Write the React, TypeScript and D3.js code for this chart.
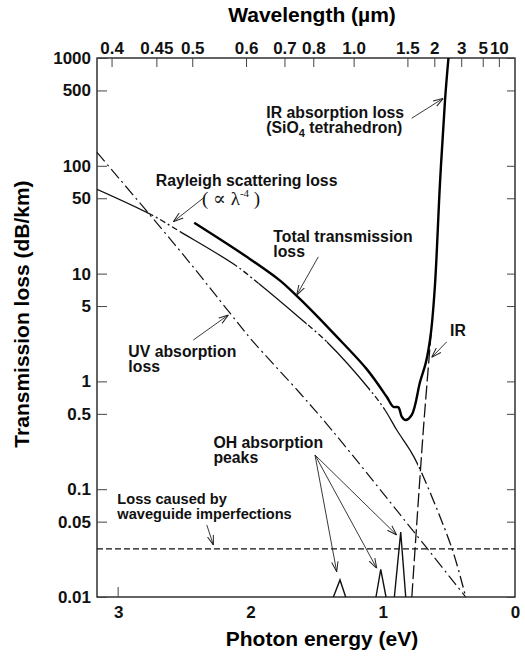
import React, { useEffect, useRef } from 'react';
import * as d3 from 'd3';

// photon energy (eV) and loss (dB/km)
const uvEnergy = [3.16, 2.507, 2.154, 1.99, 1.625, 1.385, 0.667, 0.373];
const uvLoss = [133, 14.9, 4.29, 2.42, 0.776, 0.354, 0.0285, 0.01];

const rayleighEnergy = [3.16, 2.746, 2.532, 2.116, 1.94, 1.625, 1.423, 1.096, 0.983, 0.894, 0.794, 0.733, 0.478, 0.373];
const rayleighLoss = [60.6, 35.0, 24.5, 12.0, 8.13, 3.85, 2.33, 0.832, 0.543, 0.354, 0.231, 0.168, 0.0285, 0.01];
// where the rayleigh curve is drawn solid (the rest is dash-dot)
const rayleighSolid = [[3.16, 2.746], [2.532, 2.116], [1.94, 1.575], [1.423, 1.096], [0.983, 0.733]];

const totalEnergy = [2.425, 2.028, 1.776, 1.65, 1.55, 1.373, 1.121, 0.97, 0.92, 0.882, 0.856, 0.831, 0.781, 0.718, 0.673, 0.635, 0.605, 0.567, 0.529, 0.503];
const totalLoss = [29.6, 14.3, 8.6, 6.2, 4.7, 2.8, 1.3, 0.72, 0.582, 0.575, 0.471, 0.438, 0.488, 0.987, 1.51, 2.87, 7.84, 69.2, 407, 1000];

const irEnergy = [0.78, 0.693, 0.632];
const irLoss = [0.01, 0.354, 3.0];

const ohPeakEnergy = [1.323, 1.015, 0.864];
const ohPeakLoss = [0.0144, 0.018, 0.04];
const ohBaseLeft = [1.373, 1.051, 0.912];
const ohBaseRight = [1.28, 0.975, 0.826];

const waveguideLoss = 0.028;

const lossTicks = [1000, 500, 100, 50, 10, 5, 1, 0.5, 0.1, 0.05, 0.01];
const energyTicks = [3, 2, 1, 0];
const wavelengthTicks = [0.4, 0.45, 0.5, 0.6, 0.7, 0.8, 1.0, 1.5, 2, 3, 5, 10];
const wavelengthLabels = ['0.4', '0.45', '0.5', '0.6', '0.7', '0.8', '1.0', '1.5', '2', '3', '5', '10'];
const hc = 1.22; // eV·µm as the figure's top axis is laid out

export default function App() {
  const ref = useRef<SVGSVGElement>(null);

  useEffect(() => {
    const svg = d3.select(ref.current);
    svg.selectAll('*').remove();

    const width = 525;
    const height = 657;
    const margin = { top: 58, right: 10, bottom: 60, left: 97 };
    const font = '"Liberation Sans", Arial, Helvetica, sans-serif';

    const x = d3.scaleLinear().domain([3.16, 0]).range([margin.left, width - margin.right]);
    const y = d3.scaleLog().domain([0.01, 1000]).range([height - margin.bottom, margin.top]);

    const line = d3.line<[number, number]>()
      .x(d => x(d[0]))
      .y(d => y(d[1]))
      .curve(d3.curveCatmullRom);

    const defs = svg.append('defs');
    defs.append('marker')
      .attr('id', 'arrow')
      .attr('viewBox', '0 0 10 8')
      .attr('refX', 10)
      .attr('refY', 4)
      .attr('markerWidth', 10)
      .attr('markerHeight', 8)
      .attr('markerUnits', 'userSpaceOnUse')
      .attr('orient', 'auto')
      .append('path')
      .attr('d', 'M0,0.8 L10,4 L0,7.2')
      .attr('fill', 'none')
      .attr('stroke', '#222')
      .attr('stroke-width', 1);

    const clipRects = (id: string, ranges: number[][]) => {
      const cp = defs.append('clipPath').attr('id', id);
      ranges.forEach(([e0, e1]) => {
        cp.append('rect')
          .attr('x', x(e0))
          .attr('y', margin.top)
          .attr('width', x(e1) - x(e0))
          .attr('height', height - margin.top - margin.bottom);
      });
    };
    const gaps = rayleighSolid.slice(0, -1).map((r, i) => [r[1], rayleighSolid[i + 1][0]]);
    const tail = [[rayleighSolid[rayleighSolid.length - 1][1], 0]];
    clipRects('ray-solid', rayleighSolid);
    clipRects('ray-gap', gaps);
    clipRects('ray-tail', tail);

    // frame
    svg.append('rect')
      .attr('x', margin.left)
      .attr('y', margin.top)
      .attr('width', width - margin.left - margin.right)
      .attr('height', height - margin.top - margin.bottom)
      .attr('fill', 'none')
      .attr('stroke', '#111')
      .attr('stroke-width', 1.3);

    // axes
    const styleAxis = (g: any) => {
      g.select('.domain').remove();
      g.selectAll('.tick line').attr('stroke', '#444');
      g.attr('font-family', font).attr('font-size', 17).attr('font-weight', 'bold');
      g.selectAll('text').attr('fill', '#111');
    };

    svg.append('g')
      .attr('transform', `translate(${margin.left},0)`)
      .call(d3.axisLeft(y).tickValues(lossTicks).tickFormat(d => String(d)).tickSizeInner(-10).tickSizeOuter(0).tickPadding(6))
      .call(styleAxis);

    svg.append('g')
      .attr('transform', `translate(${width - margin.right},0)`)
      .call(d3.axisRight(y).tickValues(lossTicks).tickFormat(() => '').tickSizeInner(-8).tickSizeOuter(0))
      .call(styleAxis);

    svg.append('g')
      .attr('transform', `translate(0,${margin.top})`)
      .call(d3.axisTop(x).tickValues(wavelengthTicks.map(l => hc / l)).tickFormat((_, i) => wavelengthLabels[i]).tickSizeInner(-9).tickSizeOuter(0).tickPadding(4))
      .call(styleAxis);

    svg.append('g')
      .attr('transform', `translate(0,${height - margin.bottom})`)
      .call(d3.axisBottom(x).tickValues(energyTicks).tickFormat(d3.format('d')).tickSize(0).tickPadding(9))
      .call(styleAxis);

    svg.append('line') // lone tick at 3 eV
      .attr('x1', x(3))
      .attr('x2', x(3))
      .attr('y1', y(0.01))
      .attr('y2', y(0.01) - 10)
      .attr('stroke', '#444');

    // axis titles
    svg.append('text')
      .attr('x', 312)
      .attr('y', 22)
      .attr('text-anchor', 'middle')
      .attr('font-family', font)
      .attr('font-size', 21)
      .attr('font-weight', 'bold')
      .text('Wavelength (µm)');

    svg.append('text')
      .attr('x', 322)
      .attr('y', 646)
      .attr('text-anchor', 'middle')
      .attr('font-family', font)
      .attr('font-size', 21)
      .attr('font-weight', 'bold')
      .text('Photon energy (eV)');

    svg.append('text')
      .attr('transform', 'translate(29,314) rotate(-90)')
      .attr('text-anchor', 'middle')
      .attr('font-family', font)
      .attr('font-size', 21)
      .attr('font-weight', 'bold')
      .text('Transmission loss (dB/km)');

    const plot = svg.append('g');

    // waveguide imperfection loss
    plot.append('path')
      .attr('d', line([[3.16, waveguideLoss], [0, waveguideLoss]]))
      .attr('fill', 'none')
      .attr('stroke', '#111')
      .attr('stroke-width', 1.2)
      .attr('stroke-dasharray', '6,3');

    // UV absorption
    plot.append('path')
      .attr('d', line(d3.zip(uvEnergy, uvLoss) as [number, number][]))
      .attr('fill', 'none')
      .attr('stroke', '#111')
      .attr('stroke-width', 1.2)
      .attr('stroke-dasharray', '12,4,2,4');

    // Rayleigh scattering
    const ray = line(d3.zip(rayleighEnergy, rayleighLoss) as [number, number][]);
    plot.append('path')
      .attr('d', ray)
      .attr('clip-path', 'url(#ray-solid)')
      .attr('fill', 'none')
      .attr('stroke', '#111')
      .attr('stroke-width', 1.3);
    plot.append('path')
      .attr('d', ray)
      .attr('clip-path', 'url(#ray-gap)')
      .attr('fill', 'none')
      .attr('stroke', '#111')
      .attr('stroke-width', 1.3)
      .attr('stroke-dasharray', '6,3,2,3');
    plot.append('path')
      .attr('d', ray)
      .attr('clip-path', 'url(#ray-tail)')
      .attr('fill', 'none')
      .attr('stroke', '#111')
      .attr('stroke-width', 1.3)
      .attr('stroke-dasharray', '12,4,2,4');

    // IR absorption (dashed part)
    plot.append('path')
      .attr('d', line(d3.zip(irEnergy, irLoss) as [number, number][]))
      .attr('fill', 'none')
      .attr('stroke', '#111')
      .attr('stroke-width', 1.3)
      .attr('stroke-dasharray', '14,4');

    // OH absorption peaks
    ohPeakEnergy.forEach((e, i) => {
      plot.append('path')
        .attr('d', d3.line<[number, number]>().x(d => x(d[0])).y(d => y(d[1]))([
          [ohBaseLeft[i], 0.01], [e, ohPeakLoss[i]], [ohBaseRight[i], 0.01]
        ]))
        .attr('fill', 'none')
        .attr('stroke', '#111')
        .attr('stroke-width', 1.4);
    });

    // total transmission loss
    plot.append('path')
      .attr('d', line(d3.zip(totalEnergy, totalLoss) as [number, number][]))
      .attr('fill', 'none')
      .attr('stroke', '#000')
      .attr('stroke-width', 2.4)
      .attr('stroke-linejoin', 'round');

    // annotations: [energy, loss] of text baseline start
    const lineStep = 15;
    const label = (e: number, v: number, lines: string[], size = 15.8) => {
      const t = svg.append('text')
        .attr('x', x(e))
        .attr('y', y(v))
        .attr('font-family', font)
        .attr('font-size', size)
        .attr('font-weight', 'bold')
        .attr('fill', '#111');
      lines.forEach((s, i) => {
        t.append('tspan').attr('x', x(e)).attr('dy', i === 0 ? 0 : lineStep).text(s);
      });
      return t;
    };

    const ir = label(1.88, 280, ['IR absorption loss']);
    ir.append('tspan').attr('x', x(1.88)).attr('dy', lineStep).text('(SiO');
    ir.append('tspan').attr('font-size', 11).attr('dy', 4).text('4');
    ir.append('tspan').attr('dy', -4).text(' tetrahedron)');

    label(2.716, 65, ['Rayleigh scattering loss']);
    const prop = svg.append('text')
      .attr('x', x(2.366))
      .attr('y', y(43.3))
      .attr('font-family', '"Liberation Serif", "DejaVu Serif", serif')
      .attr('font-size', 19)
      .attr('fill', '#111');
    prop.append('tspan').text('( ∝  λ');
    prop.append('tspan').attr('font-size', 11).attr('dy', -8).text('-4');
    prop.append('tspan').attr('dy', 8).text(' )');

    label(1.827, 19.8, ['Total transmission', 'loss']);
    label(2.923, 1.69, ['UV absorption', 'loss']);
    label(0.491, 2.64, ['IR']);
    label(2.28, 0.239, ['OH absorption', 'peaks']);
    label(3.006, 0.0724, ['Loss caused by', 'waveguide imperfections'], 14.6);

    // arrows: [from energy, from loss, to energy, to loss]
    const arrows = [
      [0.781, 276, 0.542, 423],
      [2.343, 51.7, 2.583, 30.3],
      [1.487, 14.3, 1.65, 6.33],
      [2.432, 2.42, 2.167, 4.13],
      [0.516, 2.33, 0.63, 1.67],
      [1.512, 0.2077, 1.348, 0.01717],
      [1.512, 0.2077, 1.045, 0.01845],
      [1.512, 0.2077, 0.894, 0.0376],
      [2.33, 0.0466, 2.28, 0.0303],
    ];
    svg.selectAll('line.arrow')
      .data(arrows)
      .enter()
      .append('line')
      .attr('class', 'arrow')
      .attr('x1', d => x(d[0]))
      .attr('y1', d => y(d[1]))
      .attr('x2', d => x(d[2]))
      .attr('y2', d => y(d[3]))
      .attr('stroke', '#222')
      .attr('stroke-width', 0.9)
      .attr('marker-end', 'url(#arrow)');
  }, []);

  return (
    <div>
      <style>{'body{margin:0;background:#fff}'}</style>
      <svg ref={ref} width={525} height={657} style={{ display: 'block', background: '#fff' }} />
    </div>
  );
}
